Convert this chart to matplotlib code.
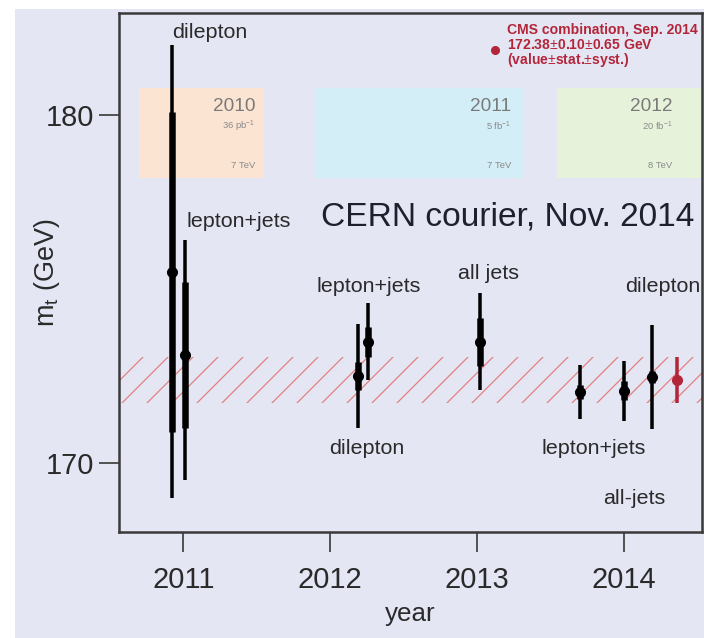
import matplotlib
matplotlib.use("Agg")
import matplotlib.pyplot as plt
from matplotlib.patches import Rectangle

# ---------------- data ----------------
channels = ["dilepton", "lepton+jets", "dilepton", "lepton+jets", "all jets",
            "lepton+jets", "all-jets", "dilepton"]
years = [2010.92, 2011.01, 2012.19, 2012.26, 2013.02, 2013.70, 2014.00, 2014.19]
masses = [175.5, 173.1, 172.5, 173.49, 173.49, 172.04, 172.08, 172.47]
stat_err = [4.6, 2.1, 0.4, 0.43, 0.69, 0.19, 0.27, 0.17]
tot_err_up = [6.5, 3.3, 1.5, 1.1, 1.39, 0.77, 0.86, 1.49]
tot_err_dn = [6.5, 3.6, 1.5, 1.1, 1.39, 0.77, 0.86, 1.49]

comb_year = 2014.36
comb_mass = 172.38
comb_stat = 0.10
comb_tot = 0.66

run_labels = ["2010", "2011", "2012"]
run_lumi = ["36 pb$^{-1}$", "5 fb$^{-1}$", "20 fb$^{-1}$"]
run_energy = ["7 TeV", "7 TeV", "8 TeV"]
run_start = [2010.70, 2011.90, 2013.54]
run_end = [2011.55, 2013.32, 2014.53]
run_colors = ["#fce4d3", "#d4eef8", "#e7f2db"]

xticks = [2011, 2012, 2013, 2014]
yticks = [170, 180]

# ---------------- style ----------------
DPI = 75
W, H = 704, 638
def pt(px):
    return px * 72.0 / DPI

BG = "#e4e6f4"
plt.rcParams["font.family"] = ["Liberation Sans", "DejaVu Sans"]
plt.rcParams["mathtext.fontset"] = "custom"
plt.rcParams["mathtext.rm"] = "Liberation Sans"
plt.rcParams["mathtext.it"] = "Liberation Sans"
plt.rcParams["hatch.linewidth"] = pt(1.2)

fig = plt.figure(figsize=(W / DPI, H / DPI), dpi=DPI, facecolor="white")
fig.patches.append(Rectangle((15 / W, 0), 1 - 15 / W, 1 - 9 / H,
                             transform=fig.transFigure, facecolor=BG,
                             edgecolor="none", zorder=-10))
ax = fig.add_axes([119 / W, 1 - 532 / H, (702 - 119) / W, (532 - 13) / H])
ax.set_facecolor(BG)
ax.set_xlim(2010.562, 2014.530)
ax.set_ylim(168.02, 182.93)

# run-period boxes
text_right = [2011.49, 2013.23, 2014.33]
for lab, lumi, en, x0, x1, c, xr in zip(run_labels, run_lumi, run_energy,
                                        run_start, run_end, run_colors,
                                        text_right):
    ax.add_patch(Rectangle((x0, 178.19), x1 - x0, 180.78 - 178.19,
                           facecolor=c, edgecolor="none", zorder=0))
    ax.text(xr, 180.23, lab, ha="right", va="center", fontsize=pt(19),
            color="#7a7a7a", zorder=1)
    ax.text(xr, 179.68, lumi, ha="right", va="center", fontsize=pt(9.5),
            color="#8a8a8a", zorder=1)
    ax.text(xr, 178.56, en, ha="right", va="center", fontsize=pt(9.5),
            color="#8a8a8a", zorder=1)

# combination band
ax.axhspan(comb_mass - comb_tot, comb_mass + comb_tot, facecolor="none",
           edgecolor="#e27c7c", hatch="/", linewidth=0, zorder=1)

# measurements
for x, m, s, up, dn in zip(years, masses, stat_err, tot_err_up, tot_err_dn):
    ax.plot([x, x], [m - dn, m + up], color="black", lw=pt(3.5),
            solid_capstyle="butt", zorder=3)
    ax.plot([x, x], [m - s, m + s], color="black", lw=pt(6.5),
            solid_capstyle="butt", zorder=3)
    ax.plot([x], [m], "o", color="black", ms=pt(10), zorder=4)

RED = "#b3263a"
ax.plot([comb_year, comb_year], [comb_mass - comb_tot, comb_mass + comb_tot],
        color=RED, lw=pt(3.5), solid_capstyle="butt", zorder=3)
ax.plot([comb_year, comb_year], [comb_mass - comb_stat, comb_mass + comb_stat],
        color=RED, lw=pt(6.5), solid_capstyle="butt", zorder=3)
ax.plot([comb_year], [comb_mass], "o", color=RED, ms=pt(10), zorder=4)

# channel labels
label_pos = [(2011.18, 182.36), (2011.375, 176.93), (2012.25, 170.43),
             (2012.26, 175.07), (2013.08, 175.46), (2013.79, 170.43),
             (2014.07, 168.99), (2014.26, 175.07)]
for (lx, ly), t in zip(label_pos, channels):
    ax.text(lx, ly, t, ha="center", va="center", fontsize=pt(21.5),
            color="#2a2a2a", zorder=5)

ax.text(2013.21, 177.08, "CERN courier, Nov. 2014", ha="center", va="center",
        fontsize=pt(33.5), color="#1e2030", zorder=5)

# CMS combination legend
ax.plot([2013.12], [181.87], "o", color=RED, ms=pt(8), zorder=5)
cms_lines = ["CMS combination, Sep. 2014", "172.38$\\pm$0.10$\\pm$0.65 GeV",
             "(value$\\pm$stat.$\\pm$syst.)"]
for i, t in enumerate(cms_lines):
    ax.text(2013.20, 182.44 - 0.43 * i, t, ha="left", va="center",
            fontsize=pt(14), color=RED, fontweight="bold", zorder=5)

# axes styling
for side in ["left", "right", "top", "bottom"]:
    ax.spines[side].set_color("#3a3a3a")
    ax.spines[side].set_linewidth(pt(2.5))
ax.set_xticks(xticks)
ax.set_yticks(yticks)
ax.tick_params(axis="both", direction="out", length=pt(20), width=pt(2),
               color="#555555", labelsize=pt(29), labelcolor="#2a2a2a")
ax.tick_params(axis="x", pad=pt(14))
ax.tick_params(axis="y", pad=pt(5))
ax.set_xlabel("year", fontsize=pt(26), color="#2a2a2a", labelpad=pt(8))
ax.set_ylabel("$\\mathregular{m_t}$ (GeV)", fontsize=pt(27), color="#2a2a2a")
ax.yaxis.set_label_coords(-0.098, 0.5)

fig.savefig("out.png", dpi=DPI, facecolor=fig.get_facecolor())
